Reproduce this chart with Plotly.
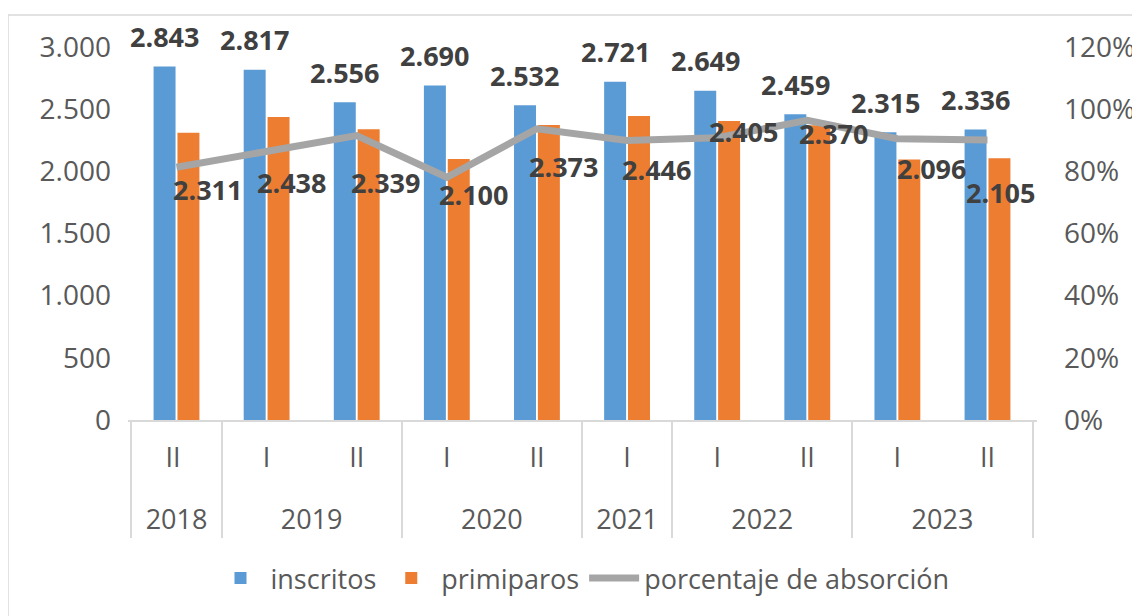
import plotly.graph_objects as go

# semesters grouped by year
years = ["2018", "2019", "2019", "2020", "2020", "2021", "2022", "2022", "2023", "2023"]
# 2018 "II " carries a trailing space so plotly keeps I before II inside each year
semesters = ["II ", "I", "II", "I", "II", "I", "I", "II", "I", "II"]

inscritos = [2843, 2817, 2556, 2690, 2532, 2721, 2649, 2459, 2315, 2336]
primiparos = [2311, 2438, 2339, 2100, 2373, 2446, 2405, 2370, 2096, 2105]
absorcion = [0.813, 0.865, 0.915, 0.781, 0.937, 0.899, 0.908, 0.964, 0.905, 0.901]

# hand-placed label offsets for primiparos (px right, px down from bar top)
prim_dx = [18, 12, 16, 14, 14, 16, 13, 13, 21, 0]
prim_dy = [57, 66, 53, 36, 42, 54, 11, 8, 9, 34]

FONT = "Open Sans"
TXT = "#595959"
LBL = "#404040"

# blank first line pushes the year row further down
x = [["<br>" + y for y in years], semesters]

fig = go.Figure()
fig.add_trace(go.Bar(x=x, y=inscritos, name="inscritos",
                     marker=dict(color="#5b9bd5", line_width=0)))
fig.add_trace(go.Bar(x=x, y=primiparos, name="primiparos",
                     marker=dict(color="#ed7d31", line_width=0)))
fig.add_trace(go.Scatter(x=x, y=absorcion, name="porcentaje de absorción",
                         mode="lines", yaxis="y2",
                         line=dict(color="#a5a5a5", width=7)))


def fmt(v):
    return f"{v:,}".replace(",", ".")


annotations = []
for i, v in enumerate(inscritos):
    annotations.append(dict(x=i, y=v, xref="x", yref="y", text=fmt(v),
                            showarrow=False, xshift=-12, yshift=30,
                            font=dict(family=FONT, size=27, color=LBL, weight="bold")))
for i, v in enumerate(primiparos):
    annotations.append(dict(x=i, y=v, xref="x", yref="y", text=fmt(v),
                            showarrow=False, xshift=13 + prim_dx[i], yshift=-prim_dy[i],
                            font=dict(family=FONT, size=27, color=LBL, weight="bold")))

# the page body adds 8px on top/left, margins below allow for it
fig.update_layout(
    width=1140, height=616,
    margin=dict(l=120, r=111, t=39, b=204),
    paper_bgcolor="white", plot_bgcolor="white",
    separators=",.",
    font=dict(family=FONT, size=27, color=TXT),
    barmode="group", bargap=0.47, bargroupgap=0.08,
    showlegend=True,
    legend=dict(orientation="h", x=0.5, xanchor="center", y=-0.425, yanchor="middle",
                font=dict(size=27, color=TXT), itemwidth=50),
    xaxis=dict(type="multicategory", showline=True, linecolor="#d9d9d9", linewidth=2,
               showdividers=True, dividercolor="#d9d9d9", dividerwidth=2,
               ticks="", ticklabelstandoff=13, tickfont=dict(size=27, color=TXT)),
    yaxis=dict(range=[0, 3000], dtick=500, tickformat=",d", showgrid=False,
               zeroline=False, showline=False, ticklabelstandoff=16,
               tickfont=dict(size=28, color=TXT)),
    yaxis2=dict(range=[0, 1.2], dtick=0.2, tickformat=".0%", overlaying="y",
                side="right", showgrid=False, zeroline=False, showline=False,
                ticklabelstandoff=26, tickfont=dict(size=28, color=TXT)),
    annotations=annotations,
    shapes=[dict(type="rect", xref="paper", yref="paper",
                 x0=-0.132, x1=1.15, y0=-0.6, y1=1.086,
                 line=dict(color="#d9d9d9", width=1.5), layer="below")],
)

fig.write_html("out.html")
